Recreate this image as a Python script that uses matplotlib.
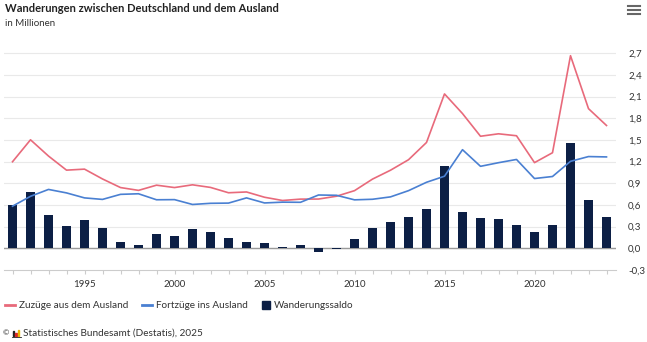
import matplotlib
matplotlib.use("Agg")
import matplotlib.pyplot as plt
from matplotlib.lines import Line2D
from matplotlib.patches import Rectangle

years = list(range(1991, 2025))
zuzuege = [1.198, 1.502, 1.277, 1.082, 1.096, 0.960, 0.841, 0.802, 0.874, 0.841,
           0.879, 0.843, 0.769, 0.780, 0.707, 0.662, 0.681, 0.682, 0.721, 0.798,
           0.958, 1.081, 1.226, 1.465, 2.137, 1.865, 1.551, 1.585, 1.558, 1.186,
           1.323, 2.666, 1.933, 1.700]
fortzuege = [0.583, 0.720, 0.815, 0.767, 0.698, 0.677, 0.747, 0.755, 0.672, 0.674,
             0.607, 0.623, 0.626, 0.698, 0.628, 0.639, 0.637, 0.738, 0.734, 0.671,
             0.679, 0.712, 0.798, 0.914, 0.998, 1.365, 1.135, 1.185, 1.230, 0.966,
             0.994, 1.204, 1.270, 1.265]
saldo = [0.602, 0.782, 0.462, 0.315, 0.398, 0.282, 0.094, 0.047, 0.202, 0.167,
         0.273, 0.220, 0.143, 0.083, 0.079, 0.023, 0.044, -0.056, -0.013, 0.128,
         0.279, 0.369, 0.429, 0.550, 1.139, 0.500, 0.416, 0.400, 0.327, 0.220,
         0.329, 1.462, 0.663, 0.430]
yticks = [-0.3, 0.0, 0.3, 0.6, 0.9, 1.2, 1.5, 1.8, 2.1, 2.4, 2.7]
xlabel_years = [1995, 2000, 2005, 2010, 2015, 2020]

title = "Wanderungen zwischen Deutschland und dem Ausland"
subtitle = "in Millionen"
labels = ["Zuzüge aus dem Ausland", "Fortzüge ins Ausland", "Wanderungssaldo"]
source = "Statistisches Bundesamt (Destatis), 2025"

RED = "#e86a7b"
BLUE = "#4a80d2"
NAVY = "#0c1f45"
TXT = "#333333"

plt.rcParams['font.family'] = ['Lato', 'DejaVu Sans']

W, H = 647, 342
fig = plt.figure(figsize=(W / 100, H / 100), dpi=100)
ax = fig.add_axes([3.5 / W, (H - 270) / H, 612 / W, (270 - 42.4) / H])

for t in yticks[1:]:
    ax.axhline(t, color="#e9e9e9", lw=0.8, zorder=0)
ax.axhline(0, color="#9a9a9a", lw=1.0, zorder=1)

ax.bar(years, saldo, width=0.5, color=NAVY, zorder=3)
ax.plot(years, zuzuege, color=RED, lw=1.2, zorder=4)
ax.plot(years, fortzuege, color=BLUE, lw=1.2, zorder=4)

ax.set_xlim(1990.5, 2024.5)
ax.set_ylim(-0.3, 2.85)

for s in ["top", "left", "right"]:
    ax.spines[s].set_visible(False)
ax.spines["bottom"].set_color("#cccccc")
ax.spines["bottom"].set_linewidth(0.8)

ax.set_xticks(years)
ax.set_xticklabels([str(y) if y in xlabel_years else "" for y in years])
ax.tick_params(axis="x", length=3, color="#cccccc", labelsize=7, labelcolor=TXT, pad=4)

ax.yaxis.tick_right()
ax.set_yticks(yticks)
ax.set_yticklabels([f"{v:.1f}".replace(".", ",") for v in yticks])
ax.tick_params(axis="y", length=0, labelsize=7, labelcolor=TXT, pad=9)

fig.text(5 / W, 1 - 9 / H, title, fontsize=8.0, fontweight="bold", color="#222222", va="center", ha="left")
fig.text(5 / W, 1 - 23 / H, subtitle, fontsize=7, color=TXT, va="center", ha="left")

# legend
ly = 1 - 305 / H
fig.add_artist(Line2D([5 / W, 15 / W], [ly, ly], color=RED, lw=2))
fig.text(19 / W, ly, labels[0], fontsize=7.2, color=TXT, va="center", ha="left")
fig.add_artist(Line2D([142 / W, 152 / W], [ly, ly], color=BLUE, lw=2))
fig.text(156 / W, ly, labels[1], fontsize=7.2, color=TXT, va="center", ha="left")
fig.add_artist(Rectangle((262 / W, ly - 4 / H), 8 / W, 8 / H, color=NAVY, transform=fig.transFigure))
fig.text(274 / W, ly, labels[2], fontsize=7.2, color=TXT, va="center", ha="left")

# footer
fy = 1 - 333 / H
fig.text(3 / W, fy, "©", fontsize=5.5, color=TXT, va="center", ha="left")
fig.add_artist(Rectangle((13 / W, fy - 3 / H), 1.3 / W, 5 / H, color="#222222", transform=fig.transFigure))
fig.add_artist(Rectangle((15.5 / W, fy - 3 / H), 1.3 / W, 3 / H, color="#d62828", transform=fig.transFigure))
fig.add_artist(Rectangle((18 / W, fy - 3 / H), 1.3 / W, 6 / H, color="#e8b400", transform=fig.transFigure))
fig.add_artist(Line2D([12 / W, 20.5 / W], [fy - 3.5 / H, fy - 3.5 / H], color="#222222", lw=0.6))
fig.text(23 / W, fy, source, fontsize=7.2, color=TXT, va="center", ha="left")

# menu icon
for dy in [6, 10, 14]:
    fig.add_artist(Line2D([628 / W, 640 / W], [1 - dy / H, 1 - dy / H], color="#666666", lw=1.5))

fig.savefig("out.png", dpi=100, facecolor="white")
